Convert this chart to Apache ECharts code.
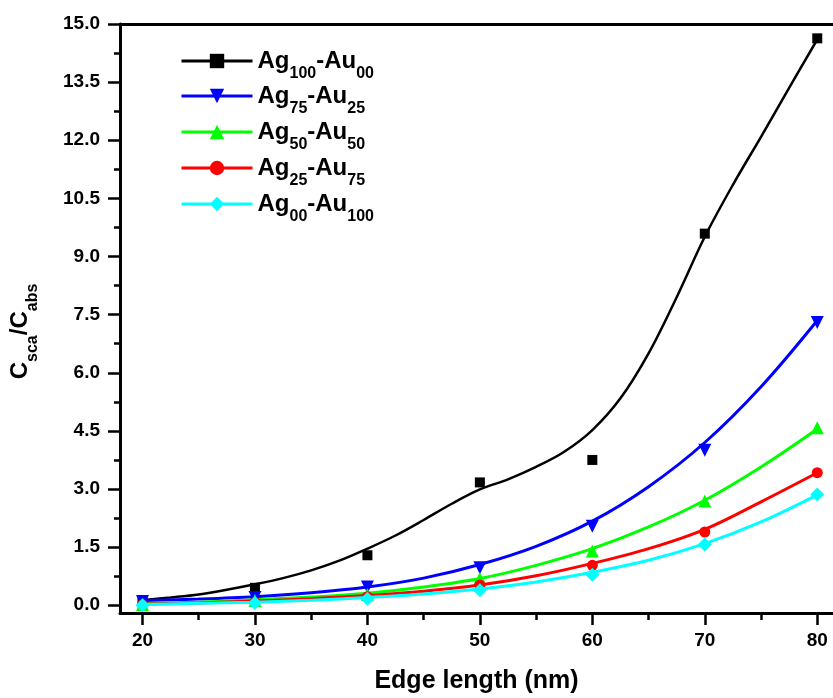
<!DOCTYPE html>
<html><head><meta charset="utf-8">
<script src="https://cdn.jsdelivr.net/npm/echarts@6/dist/echarts.min.js"></script>
<style>html,body{margin:0;padding:0;background:#fff}#c{width:833px;height:698px}</style>
</head><body><div id="c"></div>
<script>
// ---- data ----
const edgeLength = [20, 30, 40, 50, 60, 70, 80];
const ptsAg100 = [0.10, 0.45, 1.29, 3.17, 3.75, 9.59, 14.63];
const ptsAg75  = [0.10, 0.20, 0.47, 0.97, 2.04, 4.00, 7.30];
const ptsAg50  = [0.02, 0.12, 0.28, 0.69, 1.40, 2.69, 4.58];
const ptsAg25  = [0.02, 0.08, 0.22, 0.52, 1.03, 1.89, 3.42];
const ptsAg00  = [0.00, 0.06, 0.17, 0.39, 0.79, 1.57, 2.86];

// fitted curves
const fitXfine = [20, 22.5, 25, 27.5, 30, 32.5, 35, 37.5, 40, 42.5, 45, 47.5, 50, 52.5, 55, 57.5, 60, 62.5, 65, 67.5, 70, 72.5, 75, 77.5, 80];
const fitAg100 = [0.13, 0.20, 0.28, 0.40, 0.54, 0.70, 0.90, 1.15, 1.46, 1.80, 2.20, 2.62, 2.99, 3.25, 3.57, 3.96, 4.52, 5.34, 6.50, 7.95, 9.51, 10.85, 12.09, 13.35, 14.60];
const fitX = [20, 25, 30, 35, 40, 45, 50, 55, 60, 65, 70, 75, 80];
const fitAg75 = [0.12, 0.16, 0.22, 0.32, 0.47, 0.70, 1.05, 1.52, 2.17, 3.06, 4.20, 5.64, 7.35];
const fitAg50 = [0.04, 0.08, 0.14, 0.21, 0.31, 0.47, 0.69, 1.03, 1.46, 2.02, 2.71, 3.57, 4.55];
const fitAg25 = [0.03, 0.06, 0.11, 0.17, 0.25, 0.36, 0.52, 0.76, 1.08, 1.46, 1.96, 2.67, 3.42];
const fitAg00 = [0.02, 0.05, 0.08, 0.13, 0.20, 0.29, 0.42, 0.60, 0.85, 1.16, 1.59, 2.15, 2.85];

const seriesNames = ['Ag100-Au00', 'Ag75-Au25', 'Ag50-Au50', 'Ag25-Au75', 'Ag00-Au100'];
const xTicks = [20, 30, 40, 50, 60, 70, 80];
const xMinorTicks = [25, 35, 45, 55, 65, 75];
const yTicks = [0, 1.5, 3, 4.5, 6, 7.5, 9, 10.5, 12, 13.5, 15];
const yMinorTicks = [0.75, 2.25, 3.75, 5.25, 6.75, 8.25, 9.75, 11.25, 12.75, 14.25];

// ---- styling ----
const FONT = "'Liberation Sans', Arial, sans-serif";
const colors = ['#000000', '#0000ff', '#00ff00', '#ff0000', '#00ffff'];
const symbols = ['rect', 'triangle', 'triangle', 'circle', 'diamond'];
const rotations = [0, 180, 0, 0, 0];
const symSizes = [10, 13, 13, 11, 14];
const pts = [ptsAg100, ptsAg75, ptsAg50, ptsAg25, ptsAg00];
const fits = [[fitXfine, fitAg100], [fitX, fitAg75], [fitX, fitAg50], [fitX, fitAg25], [fitX, fitAg00]];

const rich = {
  m: { fontFamily: FONT, fontSize: 24, fontWeight: 'bold', color: '#000', lineHeight: 28, verticalAlign: 'middle' },
  s: { fontFamily: FONT, fontSize: 16, fontWeight: 'bold', color: '#000', padding: [26, 0, 0, 0], verticalAlign: 'middle' }
};
function legendLabel(name) {
  const parts = name.split('-');
  return '{m|Ag}{s|' + parts[0].slice(2) + '}{m|-Au}{s|' + parts[1].slice(2) + '}';
}

const X_MIN = 18, X_MAX = 81.4, Y_MIN = -0.2, Y_MAX = 15;
const gridBox = { left: 120, right: 0, top: 24, bottom: 85, outerBoundsMode: 'none' };
const lineBlack = { color: '#000', width: 3 };

const series = [];
for (let i = 0; i < 5; i++) {
  series.push({
    name: seriesNames[i], type: 'line', xAxisIndex: 0, yAxisIndex: 0,
    data: fits[i][0].map((x, k) => [x, fits[i][1][k]]),
    smooth: 0.35, showSymbol: false, symbol: symbols[i], symbolRotate: rotations[i],
    lineStyle: { color: colors[i], width: i === 0 ? 2.5 : 3 },
    itemStyle: { color: colors[i] }, z: 2 + i * 2
  });
  series.push({
    name: 'pts' + i, type: 'scatter', xAxisIndex: 0, yAxisIndex: 0,
    data: edgeLength.map((x, k) => [x, pts[i][k]]),
    symbol: symbols[i], symbolRotate: rotations[i], symbolSize: symSizes[i],
    itemStyle: { color: colors[i], opacity: 1 }, z: 3 + i * 2
  });
}

const legendTops = [49, 84, 120, 156, 192];
const legends = seriesNames.map((n, i) => ({
  data: [n], left: 180, top: legendTops[i], padding: 0, orient: 'vertical',
  itemWidth: 71, itemHeight: 18, itemGap: 0, selectedMode: false,
  lineStyle: { width: 3 },
  formatter: legendLabel, textStyle: { rich: rich }
}));

const option = {
  animation: false,
  backgroundColor: '#fff',
  grid: [Object.assign({}, gridBox), Object.assign({}, gridBox)],
  legend: legends,
  xAxis: [
    {
      type: 'value', gridIndex: 0, position: 'bottom', min: X_MIN, max: X_MAX,
      name: 'Edge length (nm)', nameLocation: 'middle', nameGap: 53,
      nameTextStyle: { fontFamily: FONT, fontSize: 25, fontWeight: 'bold', color: '#000', lineHeight: 30 },
      axisLine: { show: true, onZero: false, lineStyle: lineBlack },
      axisTick: { show: true, inside: false, length: 12, customValues: xTicks, lineStyle: { color: '#000', width: 2.5 } },
      axisLabel: { show: true, customValues: xTicks, margin: 18, fontFamily: FONT, fontSize: 19, fontWeight: 'bold', color: '#000', lineHeight: 20 },
      splitLine: { show: false }
    },
    {
      type: 'value', gridIndex: 0, position: 'top', min: X_MIN, max: X_MAX,
      axisLine: { show: true, onZero: false, lineStyle: lineBlack },
      axisTick: { show: false }, axisLabel: { show: false }, splitLine: { show: false }
    },
    {
      type: 'value', gridIndex: 1, position: 'bottom', min: X_MIN, max: X_MAX,
      axisLine: { show: false, onZero: false },
      axisTick: { show: true, inside: false, length: 7, customValues: xMinorTicks, lineStyle: { color: '#000', width: 2.5 } },
      axisLabel: { show: false }, splitLine: { show: false }
    }
  ],
  yAxis: [
    {
      type: 'value', gridIndex: 0, position: 'left', min: Y_MIN, max: Y_MAX,
      name: '{m|C}{s|sca}{m|/C}{s|abs}', nameLocation: 'middle', nameGap: 79,
      nameTextStyle: { rich: rich, padding: [0, 26, 0, 0] },
      axisLine: { show: true, onZero: false, lineStyle: lineBlack },
      axisTick: { show: true, inside: false, length: 12, customValues: yTicks, lineStyle: { color: '#000', width: 2.5 } },
      axisLabel: { show: true, customValues: yTicks, margin: 20, formatter: v => v.toFixed(1), fontFamily: FONT, fontSize: 19, fontWeight: 'bold', color: '#000' },
      splitLine: { show: false }
    },
    {
      type: 'value', gridIndex: 1, position: 'left', min: Y_MIN, max: Y_MAX,
      axisLine: { show: false, onZero: false },
      axisTick: { show: true, inside: false, length: 6, customValues: yMinorTicks, lineStyle: { color: '#000', width: 2.5 } },
      axisLabel: { show: false }, splitLine: { show: false }
    }
  ],
  series: series
};

const chart = echarts.init(document.getElementById('c'), null, { renderer: 'canvas' });
chart.setOption(option);
</script>
</body></html>
